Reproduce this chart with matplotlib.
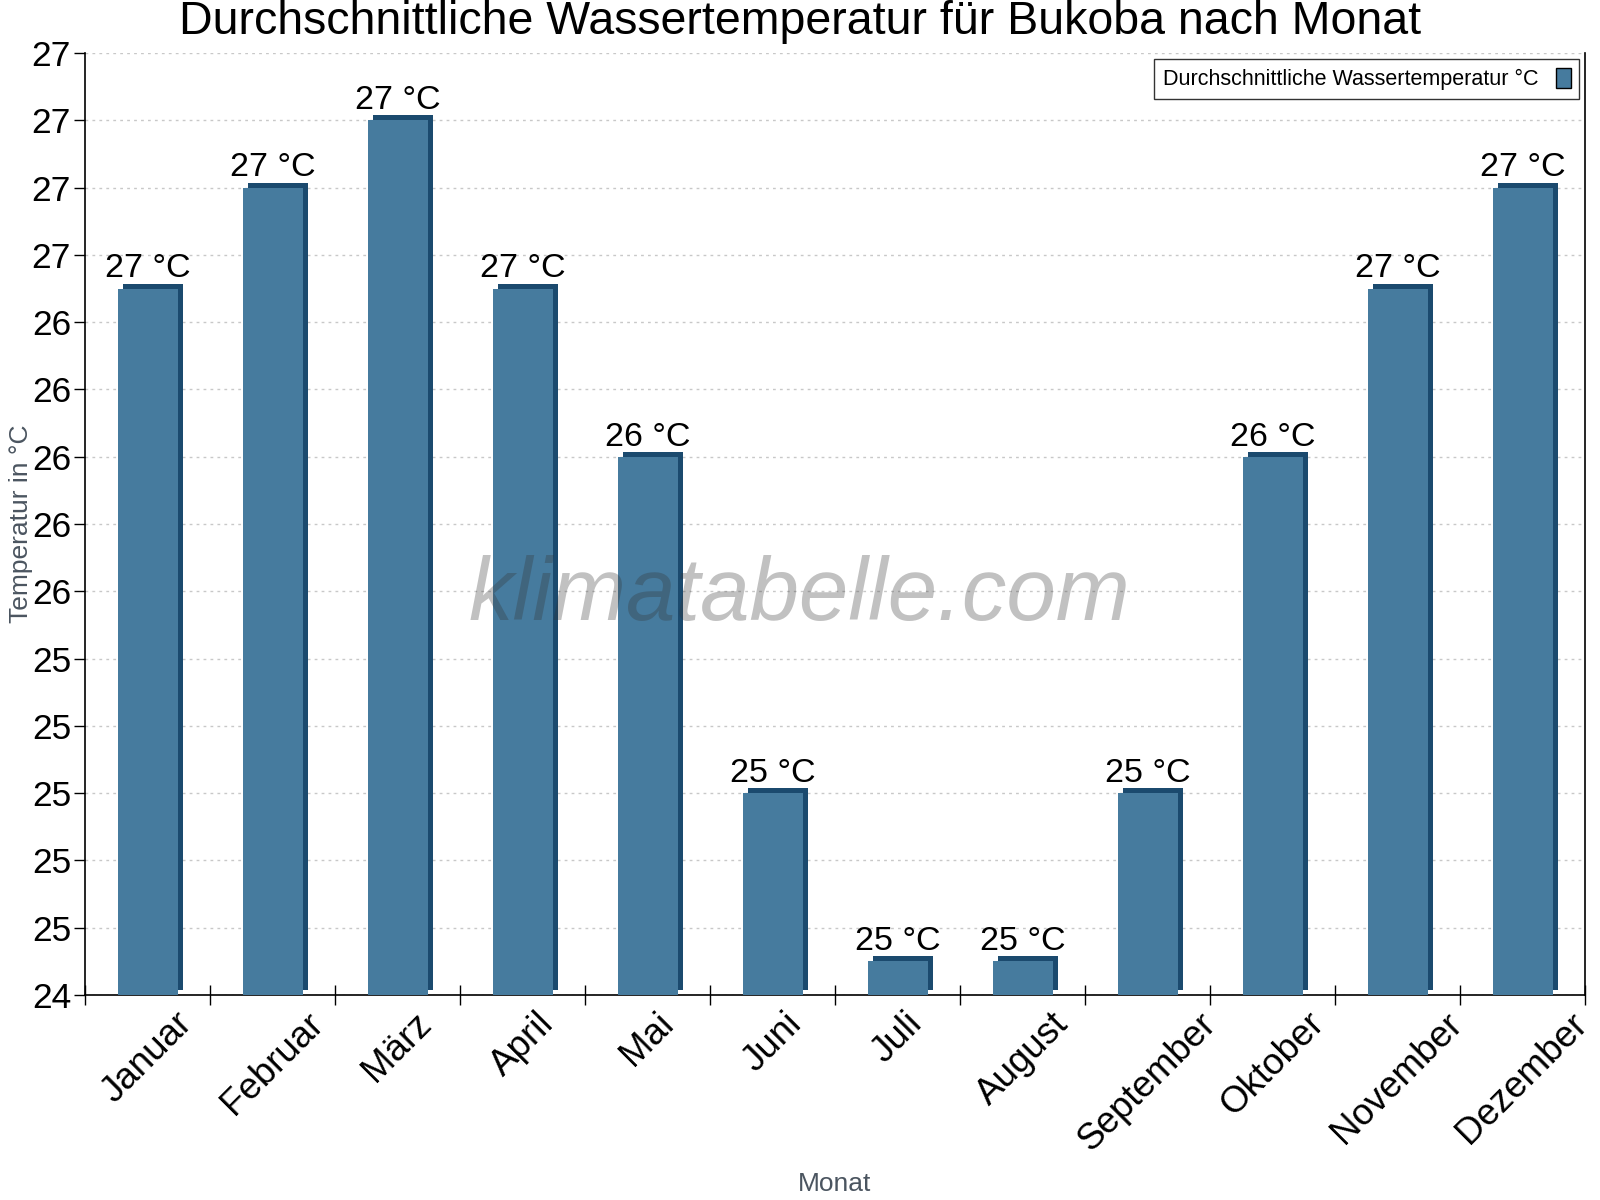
import math
import matplotlib
matplotlib.use("Agg")
import matplotlib.pyplot as plt
from matplotlib.ticker import FixedLocator, FuncFormatter, MultipleLocator
from matplotlib.transforms import ScaledTranslation

months = ["Januar", "Februar", "März", "April", "Mai", "Juni", "Juli",
          "August", "September", "Oktober", "November", "Dezember"]
water_temp = [26.5, 26.8, 27.0, 26.5, 26.0, 25.0, 24.5, 24.5, 25.0, 26.0, 26.5, 26.8]
y_min, y_max, y_step = 24.4, 27.2, 0.2

title = "Durchschnittliche Wassertemperatur für Bukoba nach Monat"
series_name = "Durchschnittliche Wassertemperatur °C"
y_label = "Temperatur in °C"
x_label = "Monat"
watermark = "klimatabelle.com"

front_color = "#467b9e"
side_color = "#1b4a6e"
label_gray = "#4b5560"

plt.rcParams["font.family"] = ["Liberation Sans", "DejaVu Sans"]

fig = plt.figure(figsize=(16, 12), dpi=100)
ax = fig.add_axes([85 / 1600, 205 / 1200, 1500 / 1600, 942 / 1200])

x = list(range(len(months)))
width = 0.48
depth = ScaledTranslation(5 / 100, 5 / 100, fig.dpi_scale_trans)

# 3D side/top faces: dark copy shifted up-right behind the front face
back = ax.bar(x, [v - y_min for v in water_temp], width=width, bottom=y_min,
              color=side_color, zorder=2)
for r in back:
    r.set_transform(ax.transData + depth)
bars = ax.bar(x, [v - y_min for v in water_temp], width=width, bottom=y_min,
              color=front_color, zorder=3, label=series_name)

for xi, v in zip(x, water_temp):
    ax.annotate(f"{math.floor(v + 0.5):d} °C", (xi, v), xytext=(0, 3),
                textcoords="offset points", ha="center", va="bottom",
                fontsize=24.5, color="black", zorder=5)

ax.set_xlim(-0.5, len(months) - 0.5)
ax.set_ylim(y_min, y_max)
ax.yaxis.set_major_locator(MultipleLocator(y_step))
ax.yaxis.set_major_formatter(FuncFormatter(lambda v, p: f"{math.floor(v + 0.5):d}"))
ax.tick_params(axis="y", labelsize=25.5, direction="out", length=8, width=1,
               colors="black", pad=2)

ax.set_xticks(x)
ax.set_xticklabels(months, rotation=45, ha="center", fontsize=26.5)
ax.tick_params(axis="x", which="major", length=0, pad=8)
ax.xaxis.set_minor_locator(FixedLocator([i + 0.5 for i in range(-1, len(months))]))
ax.tick_params(axis="x", which="minor", direction="inout", length=14, width=1)

ax.grid(axis="y", color="#c8c8c8", linestyle=(0, (2, 3)), linewidth=1, zorder=0)
ax.set_axisbelow(True)
for s in ["left", "bottom", "right"]:
    ax.spines[s].set_color("black")
    ax.spines[s].set_linewidth(1.2)
ax.spines["top"].set_visible(False)

ax.set_ylabel(y_label, fontsize=19, color=label_gray)
ax.yaxis.set_label_coords(-52 / 1500, 0.5)
fig.text(835 / 1600, 1 - 1184 / 1200, x_label, fontsize=19, color=label_gray,
         ha="center", va="center")

fig.text(0.5, 1 - 22 / 1200, title, fontsize=33.5, ha="center", va="center")

ax.text(0.476, 0.4225, watermark, transform=ax.transAxes, fontsize=64,
        style="italic", color=(0.2, 0.2, 0.2), alpha=0.3, ha="center",
        va="center", zorder=6)

leg = ax.legend(loc="upper right", bbox_to_anchor=(0.9963, 0.9935), fontsize=15.5,
                markerfirst=False, frameon=True, fancybox=False,
                handlelength=0.7, handleheight=1.1, borderpad=0.4,
                borderaxespad=0)
leg.get_frame().set_edgecolor("black")
leg.get_frame().set_linewidth(1)
for h in leg.legend_handles:
    h.set_edgecolor("black")
    h.set_linewidth(1)

fig.savefig("out.png", dpi=100)
